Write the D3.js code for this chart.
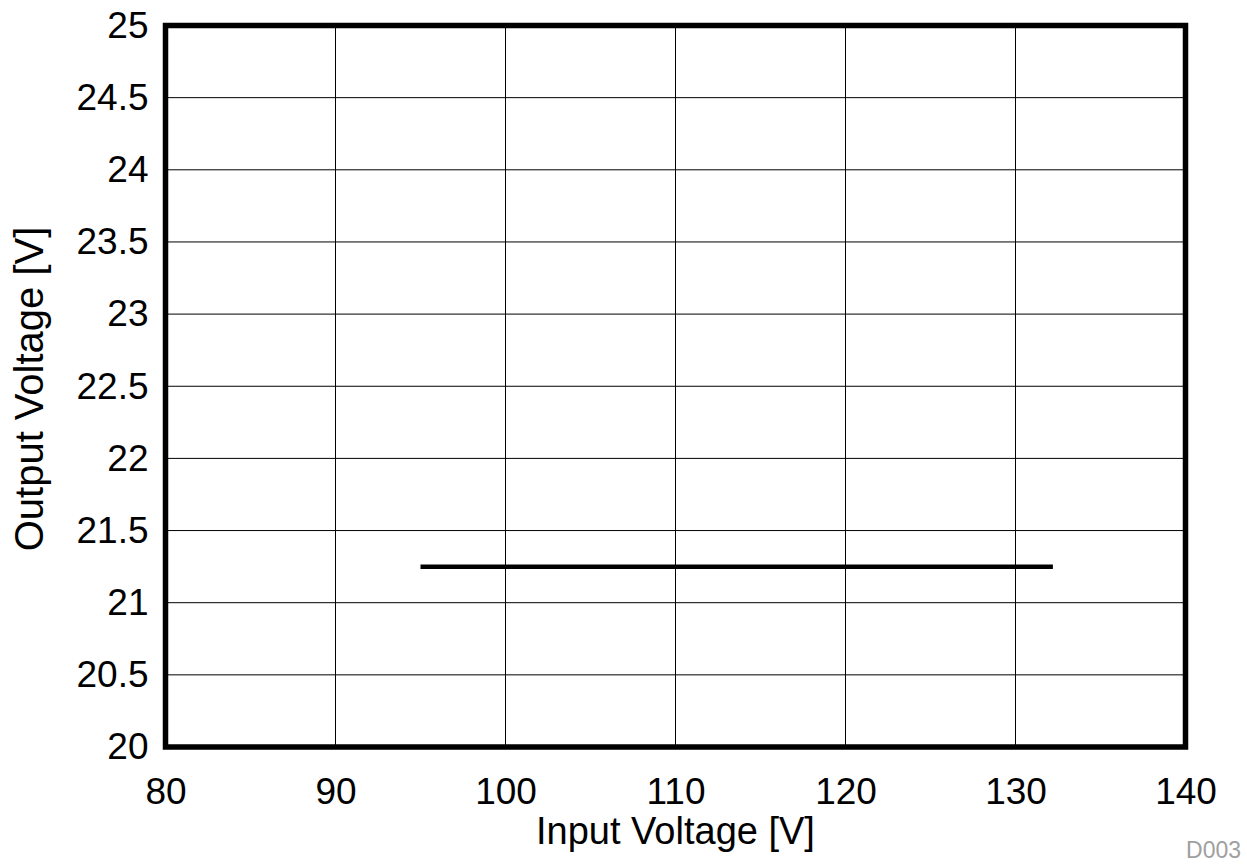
<!DOCTYPE html>
<html>
<head>
<meta charset="utf-8">
<script src="https://cdn.jsdelivr.net/npm/d3@7"></script>
<style>
  body { margin: 0; background: #fff; }
  text { font-family: "Liberation Sans", Arial, sans-serif; }
</style>
</head>
<body>
<div id="chart-area"></div>
<script>
// Chart data
var inputVoltage = [95, 100, 110, 120, 130, 132.2];
var outputVoltage = [21.25, 21.25, 21.25, 21.25, 21.25, 21.25];
var xTicks = [80, 90, 100, 110, 120, 130, 140];
var yTicks = [20, 20.5, 21, 21.5, 22, 22.5, 23, 23.5, 24, 24.5, 25];

var width = 1247,
    height = 864;

var margin = {left: 165.5, right: 61.5, top: 25.5, bottom: 117};

var svg = d3.select("#chart-area").append("svg")
    .attr("width", width)
    .attr("height", height);

var x = d3.scaleLinear()
    .domain([80, 140])
    .range([margin.left, width - margin.right]);

var y = d3.scaleLinear()
    .domain([20, 25])
    .range([height - margin.bottom, margin.top]);

// grid
svg.append("g")
    .selectAll("line.vg")
    .data(xTicks)
    .enter()
    .append("line")
    .attr("x1", function(d) { return x(d); })
    .attr("x2", function(d) { return x(d); })
    .attr("y1", y(20))
    .attr("y2", y(25))
    .attr("stroke", "#000")
    .attr("stroke-width", 1);

svg.append("g")
    .selectAll("line.hg")
    .data(yTicks)
    .enter()
    .append("line")
    .attr("x1", x(80))
    .attr("x2", x(140))
    .attr("y1", function(d) { return y(d); })
    .attr("y2", function(d) { return y(d); })
    .attr("stroke", "#000")
    .attr("stroke-width", 1);

// axes labels via d3 axes
var xAxis = d3.axisBottom(x)
    .tickValues(xTicks)
    .tickSize(0)
    .tickPadding(31)
    .tickFormat(d3.format("d"));

svg.append("g")
    .attr("transform", "translate(0," + y(20) + ")")
    .call(xAxis)
    .call(function(g) { g.select(".domain").remove(); })
    .selectAll("text")
    .attr("font-size", 37)
    .attr("fill", "#000");

var yAxis = d3.axisLeft(y)
    .tickValues(yTicks)
    .tickSize(0)
    .tickPadding(17)
    .tickFormat(function(d) { return d3.format("")(d); });

svg.append("g")
    .attr("transform", "translate(" + x(80) + ",0)")
    .call(yAxis)
    .call(function(g) { g.select(".domain").remove(); })
    .selectAll("text")
    .attr("font-size", 37)
    .attr("fill", "#000");

svg.selectAll(".tick text").attr("font-family", "Liberation Sans, Arial, sans-serif");

// data line
var line = d3.line()
    .x(function(d, i) { return x(inputVoltage[i]); })
    .y(function(d) { return y(d); });

svg.append("path")
    .datum(outputVoltage)
    .attr("d", line)
    .attr("fill", "none")
    .attr("stroke", "#000")
    .attr("stroke-width", 4.5);

// frame
svg.append("rect")
    .attr("x", x(80))
    .attr("y", y(25))
    .attr("width", x(140) - x(80))
    .attr("height", y(20) - y(25))
    .attr("fill", "none")
    .attr("stroke", "#000")
    .attr("stroke-width", 5.5);

// titles
svg.append("text")
    .attr("x", (x(80) + x(140)) / 2)
    .attr("y", 844)
    .attr("text-anchor", "middle")
    .attr("font-size", 38)
    .text("Input Voltage [V]");

svg.append("text")
    .attr("transform", "translate(43,389) rotate(-90)")
    .attr("text-anchor", "middle")
    .attr("font-size", 40)
    .text("Output Voltage [V]");

svg.append("text")
    .attr("x", 1241)
    .attr("y", 858)
    .attr("text-anchor", "end")
    .attr("font-size", 23)
    .attr("fill", "#a0a0a0")
    .text("D003");
</script>
</body>
</html>
